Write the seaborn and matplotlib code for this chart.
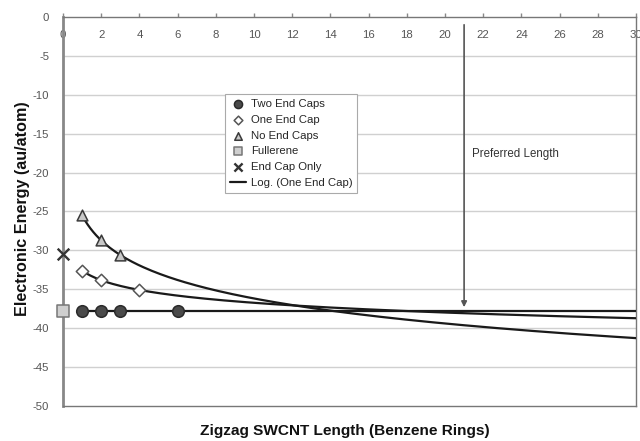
import numpy as np
import pandas as pd
import matplotlib
matplotlib.use("Agg")
import matplotlib.pyplot as plt
import seaborn as sns

sns.set_theme(style="white")
plt.rcParams["font.family"] = ["Liberation Sans", "DejaVu Sans"]
plt.rcParams["axes.unicode_minus"] = False

# Electronic energy (au/atom) versus tube length (benzene rings)
two_caps_x = [1, 2, 3, 6]
two_caps_y = [-37.8, -37.8, -37.8, -37.8]
one_cap_x = [1, 2, 4]
one_cap_y = [-32.6, -33.8, -35.1]
no_caps_x = [1, 2, 3]
no_caps_y = [-25.5, -28.7, -30.6]
fullerene_x = [0]
fullerene_y = [-37.8]
cap_only_x = [0]
cap_only_y = [-30.5]
preferred_length = 21

x_ticks = list(range(0, 31, 2))
y_ticks = list(range(0, -51, -5))


def log_fit(xs, ys, x_max=30, n=200):
    """Logarithmic trend y = a*ln(x) + b evaluated from the first point to x_max."""
    a, b = np.polyfit(np.log(xs), ys, 1)
    xx = np.linspace(min(xs), x_max, n)
    return pd.DataFrame({"x": xx, "y": a * np.log(xx) + b})


fig = plt.figure(figsize=(6.4, 4.41), dpi=100)
ax = fig.add_axes([63 / 640, 1 - 406 / 441, 573 / 640, 389 / 441])

# horizontal grid
for yv in y_ticks[1:-1]:
    ax.axhline(yv, color="#d0d0d0", lw=1.0, zorder=0)

# logarithmic trend lines
for xs, ys, lab in [(one_cap_x, one_cap_y, "Log. (One End Cap)"),
                    (no_caps_x, no_caps_y, None),
                    (two_caps_x, two_caps_y, None)]:
    df = log_fit(xs, ys)
    sns.lineplot(data=df, x="x", y="y", ax=ax, color="#1a1a1a", lw=1.6,
                 label=lab, legend=False, zorder=2)

# data series
series = [
    (two_caps_x, two_caps_y, "Two End Caps", "o", "#4a4a4a", "#2a2a2a", 70),
    (one_cap_x, one_cap_y, "One End Cap", "D", "white", "#555555", 40),
    (no_caps_x, no_caps_y, "No End Caps", "^", "#c8c8c8", "#3a3a3a", 60),
    (fullerene_x, fullerene_y, "Fullerene", "s", "#cfcfcf", "#777777", 70),
]
for xs, ys, lab, mk, fc, ec, s in series:
    sns.scatterplot(x=xs, y=ys, ax=ax, marker=mk, s=s, color=fc,
                    edgecolor=ec, linewidth=1.1, label=lab, zorder=4,
                    clip_on=False, legend=False)
sns.scatterplot(x=cap_only_x, y=cap_only_y, ax=ax, marker="x", s=70,
                color="#333333", linewidth=1.7, label="End Cap Only",
                zorder=4, clip_on=False, legend=False)

# preferred length arrow
ax.annotate("", xy=(preferred_length, -37.3), xytext=(preferred_length, -1.0),
            arrowprops=dict(arrowstyle="-|>", color="#555555", lw=1.2,
                            mutation_scale=8, shrinkA=0, shrinkB=0), zorder=3)
ax.text(preferred_length + 0.4, -17.6, "Preferred Length", fontsize=8.3,
        color="#333333", va="center", ha="left")

ax.set_xlim(0, 30)
ax.set_ylim(-50, 0)
ax.set_xticks(x_ticks)
ax.set_yticks(y_ticks)
ax.set_yticklabels([str(v) for v in y_ticks])
ax.xaxis.tick_top()
ax.tick_params(axis="x", direction="out", length=3, width=1, color="#888888",
               labelsize=8.2, labelcolor="#555555", pad=-19.5)
ax.tick_params(axis="y", direction="out", length=4, width=1, color="#888888",
               labelsize=8.2, labelcolor="#555555", pad=6)
for lbl in ax.get_xticklabels():
    lbl.set_va("bottom")
    lbl.set_zorder(6)

for side in ["top", "right", "bottom"]:
    ax.spines[side].set_color("#777777")
    ax.spines[side].set_linewidth(1.0)
ax.spines["left"].set_color("#888888")
ax.spines["left"].set_linewidth(2.0)
for sp in ax.spines.values():
    sp.set_zorder(1)

ax.set_xlabel("")
ax.set_ylabel("Electronic Energy (au/atom)", fontsize=11.6, fontweight="bold",
              color="#111111")
ax.yaxis.set_label_coords(-0.058, 0.506)
fig.text(345 / 640, 1 - 431 / 441, "Zigzag SWCNT Length (Benzene Rings)",
         fontsize=11.1, fontweight="bold", color="#111111", ha="center",
         va="center")

# legend ordered as series, with the trend line last
handles, labels = ax.get_legend_handles_labels()
order = ["Two End Caps", "One End Cap", "No End Caps", "Fullerene",
         "End Cap Only", "Log. (One End Cap)"]
hmap = dict(zip(labels, handles))
leg = ax.legend([hmap[k] for k in order], order, loc="upper left",
                bbox_to_anchor=((225 - 63) / 573, (406 - 94) / 389),
                fontsize=8.2, frameon=True, fancybox=False, framealpha=1,
                edgecolor="#aaaaaa", borderpad=0.45, labelspacing=0.5,
                handlelength=1.4, handletextpad=0.4, markerscale=0.7,
                borderaxespad=0)
leg.get_frame().set_linewidth(0.8)

fig.savefig("out.png", dpi=100, facecolor="white")
